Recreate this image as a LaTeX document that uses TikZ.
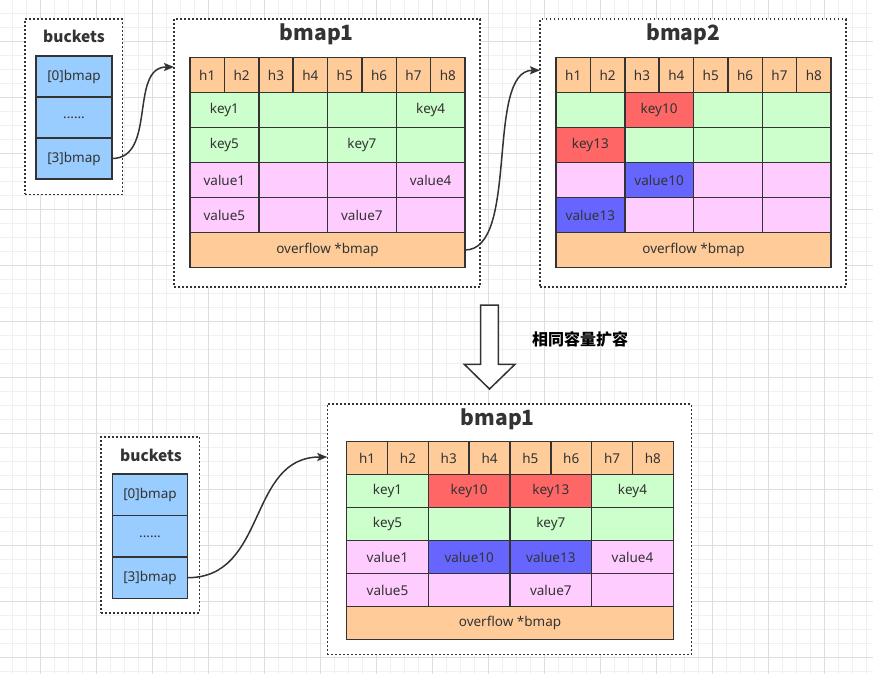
\documentclass[tikz,border=0pt]{standalone}
\usepackage{fontspec}
\setmainfont{Noto Sans}
\newfontfamily\cjk{Noto Sans CJK SC}
\usetikzlibrary{arrows.meta,calc}

\definecolor{ink}{HTML}{333333}
\definecolor{hdrfill}{HTML}{FFCC99}
\definecolor{keyfill}{HTML}{CCFFCC}
\definecolor{valfill}{HTML}{FFCCFF}
\definecolor{hotkey}{HTML}{FF6666}
\definecolor{hotval}{HTML}{6666FF}
\definecolor{slotfill}{HTML}{99CCFF}
\definecolor{gridminor}{HTML}{F0F0F0}
\definecolor{gridmajor}{HTML}{DEDEDE}

\tikzset{
  cell/.style={draw=ink, line width=1.5pt, inner sep=0pt, outer sep=0pt,
    text=ink, font=\fontsize{13.5}{16}\selectfont},
  group/.style={draw=ink, fill=white, line width=1.6pt, inner sep=0pt, outer sep=0pt,
    dash pattern=on 1.8pt off 2.2pt},
  heading/.style={text=ink, inner sep=0pt},
  bigtitle/.style={heading, font=\cjk\bfseries\fontsize{21}{24}\selectfont},
  smalltitle/.style={heading, font=\cjk\bfseries\fontsize{15.5}{18}\selectfont},
  link/.style={draw=ink, line width=1.5pt, -{Stealth[length=10pt,width=8pt,inset=2pt]}},
}

% one row of four key/value slots: prefix, row, x0, y0, column width, row height, cells
\newcommand{\bmaprow}[7]{%
  \foreach \st/\tx [count=\j] in {#7}{
    \node[cell, fill=\st, minimum width={2*#5*1pt}, minimum height={#6*1pt}]
      (#1-r#2c\j) at ({#3+(2*\j-1)*#5}, {#4+(#2+0.5)*#6}) {\tx};
  }}

% a whole bucket map: tophash row, four slot rows, overflow pointer
\newcommand{\bmaptable}[9]{%
  \foreach \k in {1,...,8}{
    \node[cell, fill=hdrfill, minimum width={#4*1pt}, minimum height={#5*1pt}]
      (#1-h\k) at ({#2+(\k-0.5)*#4}, {#3+0.5*#5}) {h\k};
  }
  \bmaprow{#1}{1}{#2}{#3}{#4}{#5}{#6}
  \bmaprow{#1}{2}{#2}{#3}{#4}{#5}{#7}
  \bmaprow{#1}{3}{#2}{#3}{#4}{#5}{#8}
  \bmaprow{#1}{4}{#2}{#3}{#4}{#5}{#9}
  \node[cell, fill=hdrfill, minimum width={8*#4*1pt}, minimum height={#5*1pt}]
    (#1-of) at ({#2+4*#4}, {#3+5.5*#5}) {overflow *bmap};
}

\begin{document}
\begin{tikzpicture}[x=1pt, y=-1pt]
\useasboundingbox (0,0) rectangle (873,674);

% background grid
\foreach \gx in {12.3,26.3,...,873} \draw[gridminor, line width=1pt] (\gx,0) -- (\gx,674);
\foreach \gy in {13.3,27.3,...,674} \draw[gridminor, line width=1pt] (0,\gy) -- (873,\gy);
\foreach \gx in {40.3,96.3,...,873} \draw[gridmajor, line width=1pt] (\gx,0) -- (\gx,674);
\foreach \gy in {41.3,97.3,...,674} \draw[gridmajor, line width=1pt] (0,\gy) -- (873,\gy);

% containers
\node[group, minimum width=97.3pt, minimum height=175.3pt] (g0) at (73.65,106.65) {};
\node[group, minimum width=306pt, minimum height=267.7pt] (g1) at (327,152.85) {};
\node[group, minimum width=306pt, minimum height=267.4pt] (g2) at (693,153) {};
\node[group, minimum width=98.3pt, minimum height=176pt] (g3) at (150.15,524.7) {};
\node[group, minimum width=364pt, minimum height=250.5pt] (g4) at (509.3,529.25) {};

% titles
\node[smalltitle] (t0) at (74,36.5) {buckets};
\node[bigtitle] (t1) at (316.7,34.5) {bmap1};
\node[bigtitle] (t2) at (683.3,34) {bmap2};
\node[smalltitle] (t3) at (151,455) {buckets};
\node[bigtitle] (t4) at (497.7,419.5) {bmap1};

% bucket arrays
\node[cell, fill=slotfill, minimum width=76pt, minimum height=41pt] (s0) at (74,76.5) {[0]bmap};
\node[cell, fill=slotfill, minimum width=76pt, minimum height=41pt] (s1) at (74,117.5) {......};
\node[cell, fill=slotfill, minimum width=76pt, minimum height=41pt] (s3) at (74,158.5) {[3]bmap};

\node[cell, fill=slotfill, minimum width=75.4pt, minimum height=41.5pt] (q0) at (150,494.7) {[0]bmap};
\node[cell, fill=slotfill, minimum width=75.4pt, minimum height=41.5pt] (q1) at (150,536.3) {......};
\node[cell, fill=slotfill, minimum width=75.4pt, minimum height=41.5pt] (q3) at (150,577.7) {[3]bmap};

% bucket maps
\bmaptable{a}{190}{57.5}{34.375}{35}
  {keyfill/key1, keyfill/{}, keyfill/{}, keyfill/key4}
  {keyfill/key5, keyfill/{}, keyfill/key7, keyfill/{}}
  {valfill/value1, valfill/{}, valfill/{}, valfill/value4}
  {valfill/value5, valfill/{}, valfill/value7, valfill/{}}

\bmaptable{b}{556}{57.5}{34.375}{35}
  {keyfill/{}, hotkey/key10, keyfill/{}, keyfill/{}}
  {hotkey/key13, keyfill/{}, keyfill/{}, keyfill/{}}
  {valfill/{}, hotval/value10, valfill/{}, valfill/{}}
  {hotval/value13, valfill/{}, valfill/{}, valfill/{}}

\bmaptable{c}{346.7}{441.7}{40.825}{33}
  {keyfill/key1, hotkey/key10, hotkey/key13, keyfill/key4}
  {keyfill/key5, keyfill/{}, keyfill/key7, keyfill/{}}
  {valfill/value1, hotval/value10, hotval/value13, valfill/value4}
  {valfill/value5, valfill/{}, valfill/value7, valfill/{}}

% pointers
\coordinate (in1) at ($(g1.north west)+(0,48)$);
\coordinate (in2) at ($(g2.north west)+(0,51)$);
\coordinate (in4) at ($(g4.north west)+(0,53)$);
\draw[link] (s3.east) .. controls +(45,0) and +(-45,0) .. (in1);
\draw[link] (a-of.east) .. controls +(55,0) and +(-55,0) .. (in2);
\draw[link] (q3.east) .. controls +(80,0) and +(-80,0) .. (in4);

% growth step
\draw[ink, line width=1.5pt, fill=white]
  (480.7,305) -- (498.3,305) -- (498.3,364.3) -- (515,364.3) -- (489.5,389)
  -- (464.3,364.3) -- (480.7,364.3) -- cycle;
\node[inner sep=0pt, font=\cjk\bfseries\fontsize{16}{18}\selectfont] (grow) at (580,339.5) {相同容量扩容};

\end{tikzpicture}
\end{document}
